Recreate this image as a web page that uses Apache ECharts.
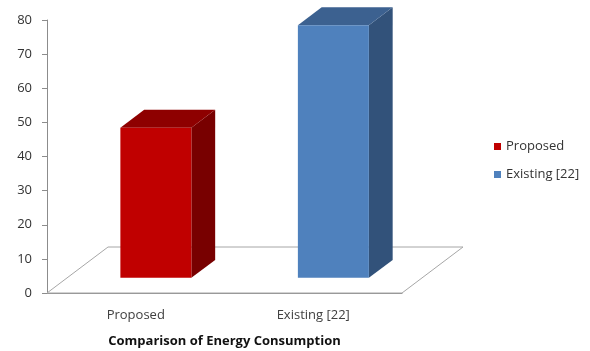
<!DOCTYPE html>
<html><head><meta charset="utf-8">
<script src="https://cdn.jsdelivr.net/npm/echarts/dist/echarts.min.js"></script>
<style>html,body{margin:0;padding:0;background:#fff}#c{width:590px;height:351px}</style>
</head><body><div id="c"></div>
<script>
const categories = ['Proposed', 'Existing [22]'];
const seriesNames = ['Proposed', 'Existing [22]'];
const values = [44, 74];
const axisTitle = 'Comparison of Energy Consumption';

const palette = [
  { front: '#c00000', top: '#8e0000', side: '#780000' },
  { front: '#4f81bd', top: '#3c6190', side: '#32527a' }
];
const FONT = '"Open Sans", Lato, sans-serif';
const FLOOR = [61, -46];
const D0 = 0.33, D1 = 0.72;

function barRender(col) {
  return function (params, api) {
    const cat = api.value(0), v = api.value(1);
    const p0 = api.coord([cat, 0]);
    const p1 = api.coord([cat, v]);
    const band = api.size([1, 0])[0];
    const hw = band * 0.2;
    const d0 = [FLOOR[0] * D0, FLOOR[1] * D0];
    const d1 = [FLOOR[0] * D1, FLOOR[1] * D1];
    const xl = p0[0] - hw + d0[0], xr = p0[0] + hw + d0[0];
    const yb = p0[1] + d0[1], yt = p1[1] + d0[1];
    const ex = d1[0] - d0[0], ey = d1[1] - d0[1];
    return { type: 'group', children: [
      { type: 'polygon', shape: { points: [[xr, yb], [xr + ex, yb + ey], [xr + ex, yt + ey], [xr, yt]] }, style: { fill: col.side } },
      { type: 'polygon', shape: { points: [[xl, yt], [xr, yt], [xr + ex, yt + ey], [xl + ex, yt + ey]] }, style: { fill: col.top } },
      { type: 'rect', shape: { x: xl, y: yt, width: xr - xl, height: yb - yt }, style: { fill: col.front } }
    ]};
  };
}

function floorRender(params, api) {
  const cs = params.coordSys;
  const x = cs.x, y = cs.y + cs.height, w = cs.width;
  return { type: 'polygon', silent: true, shape: { points: [[x, y], [x + w, y], [x + w + FLOOR[0], y + FLOOR[1]], [x + FLOOR[0], y + FLOOR[1]]] },
    style: { fill: '#fff', stroke: '#a6a6a6', lineWidth: 1 } };
}

const series = [{
  type: 'custom', name: '_floor', z: 1, silent: true, renderItem: floorRender,
  data: [[categories[0], 0]], legendHoverLink: false
}];
seriesNames.forEach((n, i) => {
  series.push({
    type: 'custom', name: n, z: 3, renderItem: barRender(palette[i]),
    itemStyle: { color: palette[i].front },
    data: [[categories[i], values[i]]]
  });
});

const chart = echarts.init(document.getElementById('c'), null, { renderer: 'canvas' });
chart.setOption({
  animation: false,
  textStyle: { fontFamily: FONT },
  grid: { left: 47, right: 188, top: 20, bottom: 58, containLabel: false, outerBoundsMode: 'none' },
  legend: {
    data: seriesNames, orient: 'vertical', left: 489, top: 135, itemGap: 15,
    icon: 'rect', itemWidth: 7, itemHeight: 7, itemStyle: { borderWidth: 0 },
    textStyle: { fontSize: 13, color: '#333', fontFamily: FONT }
  },
  xAxis: {
    type: 'category', data: categories, boundaryGap: true,
    name: axisTitle, nameLocation: 'middle', nameGap: 42,
    nameTextStyle: { fontWeight: 'bold', fontSize: 13, color: '#111', fontFamily: FONT },
    axisLine: { lineStyle: { color: '#8c8c8c', width: 1 } },
    axisTick: { show: false },
    axisLabel: { margin: 16, fontSize: 13, color: '#404040', fontFamily: FONT },
    splitLine: { show: false }
  },
  yAxis: {
    type: 'value', min: 0, max: 80, interval: 10,
    axisLine: { show: true, lineStyle: { color: '#8c8c8c', width: 1 } },
    axisTick: { show: true, length: 5, lineStyle: { color: '#8c8c8c' } },
    axisLabel: { margin: 15, fontSize: 13, color: '#333', fontFamily: FONT },
    splitLine: { show: false }
  },
  series: series
});
</script>
</body></html>
